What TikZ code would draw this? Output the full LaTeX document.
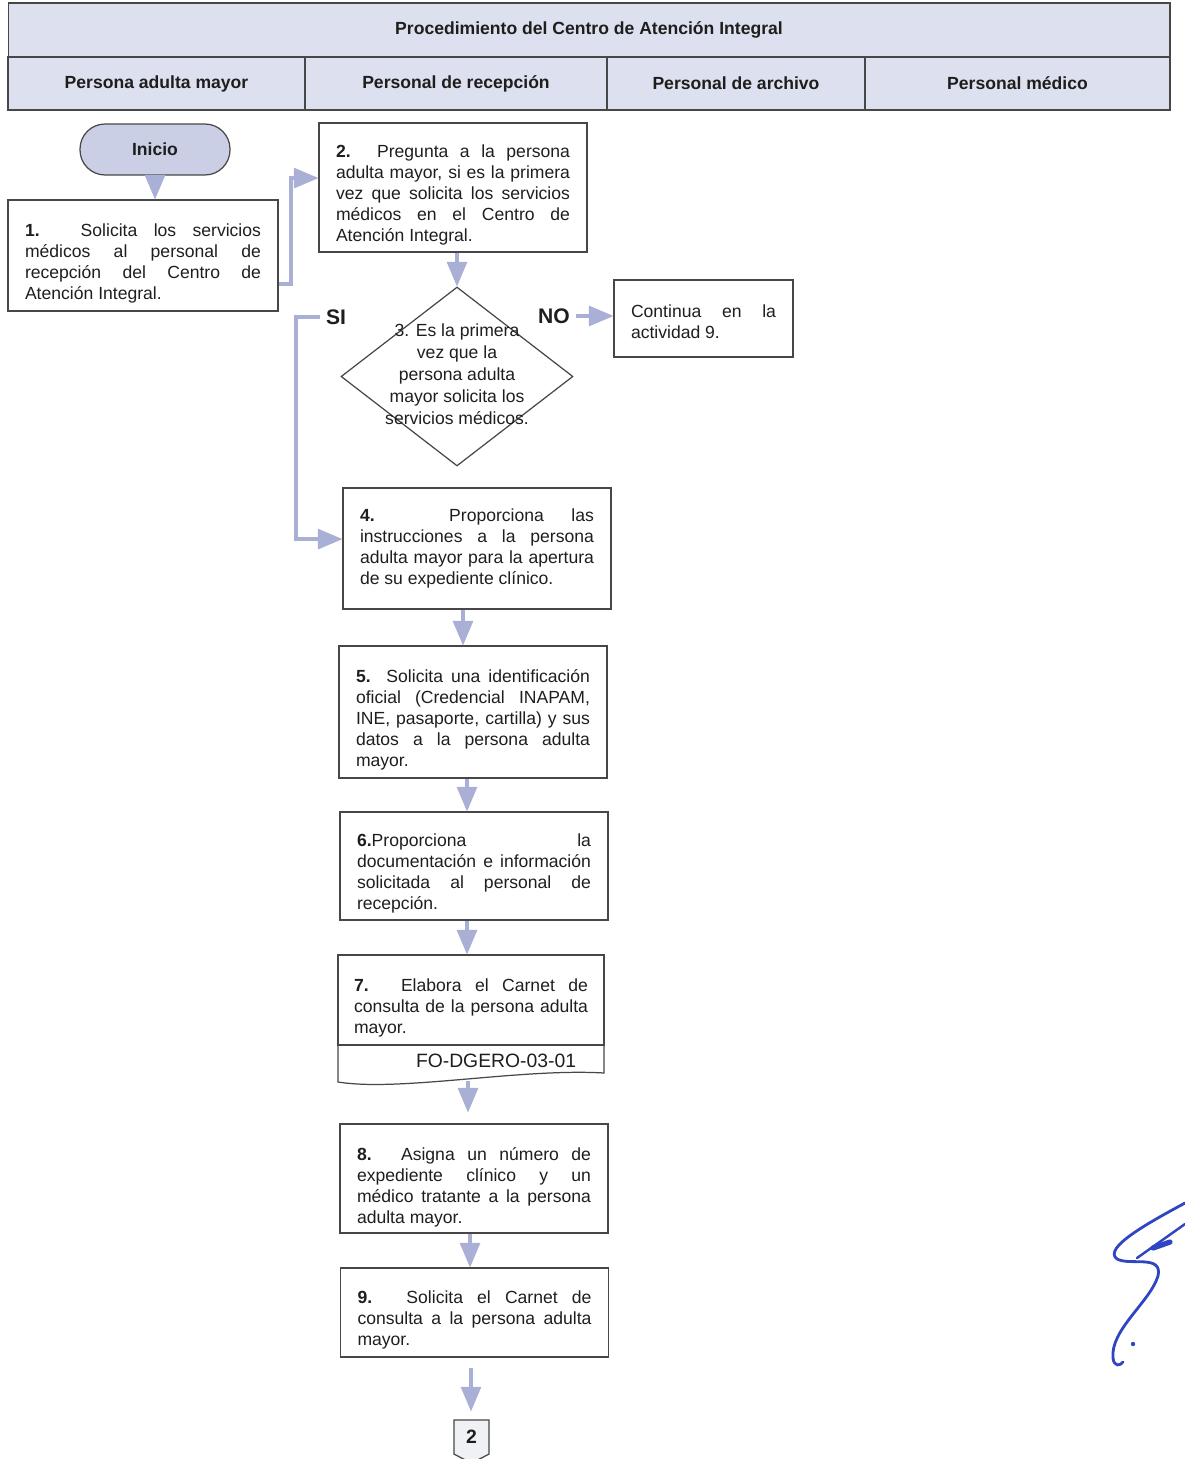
\documentclass[tikz,border=0pt]{standalone}
\usepackage{fontspec}
\setmainfont{Liberation Sans}
\usepackage{tikz}
\usetikzlibrary{shapes.geometric,shapes.symbols}
\usetikzlibrary{arrows}
\setlength{\parindent}{0pt}
\definecolor{flowblue}{HTML}{A9AFD5}
\definecolor{lanefill}{HTML}{DDE0EE}
\definecolor{startfill}{HTML}{CACFE6}
\definecolor{pagefill}{HTML}{F0F1F5}
\definecolor{edgegray}{HTML}{474747}
\definecolor{inkgray}{HTML}{1E1E1E}
\definecolor{signblue}{HTML}{2F45C2}

\begin{document}
\begin{tikzpicture}[x=0.02cm,y=-0.02cm,
  every node/.style={text=inkgray,font=\fontsize{10}{11.9}\selectfont},
  lane/.style={draw=edgegray,fill=lanefill,line width=0.7pt,minimum height=1.06cm,font=\fontsize{10}{12}\selectfont\bfseries},
  stepbox/.style={draw=edgegray,line width=0.7pt,text width=4.68cm,align=justify,minimum width=5.36cm},
  lowtext/.style={execute at begin node={\rule{0pt}{#1}}},
  lowtext/.default=16pt,
  decision/.style={diamond,draw=edgegray,line width=0.7pt,inner sep=0pt,minimum width=4.64cm,minimum height=3.58cm},
  answer/.style={font=\fontsize{12}{14}\selectfont\bfseries},
  flowarrow/.style={draw=flowblue,line width=2.3pt,-triangle 45}]
\useasboundingbox (0,0) rectangle (1185,1459);
% encabezado
\draw
(589,30) node[lane,minimum width=23.24cm,minimum height=1.08cm](hdr){Procedimiento del Centro de Atención Integral}
(156.5,83.5) node[lane,minimum width=5.94cm](l1){Persona adulta mayor}
(456,83.5) node[lane,minimum width=6.04cm](l2){Personal de recepción}
(736,83.5) node[lane,minimum width=5.16cm](l3){Personal de archivo}
(1017.5,83.5) node[lane,minimum width=6.1cm](l4){Personal médico}
;
% actividades
\draw
(155,149.5) node[draw=edgegray,fill=startfill,line width=0.7pt,rounded corners=0.5cm,minimum width=3cm,minimum height=1.02cm,font=\fontsize{10}{12}\selectfont\bfseries](ini){Inicio}
(143,255.5) node[stepbox,lowtext,text width=4.72cm,minimum width=5.4cm,minimum height=2.22cm](b1){\textbf{1.} Solicita los servicios\linebreak médicos al personal de\linebreak recepción del Centro de\linebreak Atención Integral.}
(453,187.5) node[stepbox,lowtext,minimum height=2.58cm](b2){\textbf{2.} Pregunta a la persona\linebreak adulta mayor, si es la primera\linebreak vez que solicita los servicios\linebreak médicos en el Centro de\linebreak Atención Integral.}
(457,376.5) node[decision](d3){}
(457,374) node[align=center,font=\fontsize{10}{12.5}\selectfont](d3t){3. Es la primera\\vez que la\\persona adulta\\mayor solicita los\\servicios médicos.}
(336,317) node[answer](si){SI}
(554,316) node[answer](no){NO}
(703.5,318.5) node[stepbox,lowtext=10.7pt,text width=2.9cm,minimum width=3.58cm,minimum height=1.54cm](cont){Continua en la\linebreak actividad 9.}
(477,548.5) node[stepbox,minimum height=2.42cm](b4){\textbf{4.} Proporciona las\linebreak instrucciones a la persona\linebreak adulta mayor para la apertura\linebreak de su expediente clínico.}
(473,712) node[stepbox,lowtext,minimum height=2.64cm](b5){\textbf{5.} Solicita una identificación\linebreak oficial (Credencial INAPAM,\linebreak INE, pasaporte, cartilla) y sus\linebreak datos a la persona adulta\linebreak mayor.}
(474,866) node[stepbox,lowtext,minimum height=2.16cm](b6){\textbf{6.}Proporciona la\linebreak documentación e información\linebreak solicitada al personal de\linebreak recepción.}
(471,1000) node[stepbox,lowtext,minimum width=5.32cm,minimum height=1.8cm](b7){\textbf{7.} Elabora el Carnet de\linebreak consulta de la persona adulta\linebreak mayor.}
(496,1061) node[font=\fontsize{11}{13}\selectfont](f7){FO-DGERO-03-01}
(474,1178.5) node[stepbox,lowtext=17.5pt,minimum height=2.1cm](b8){\textbf{8.} Asigna un número de\linebreak expediente clínico y un\linebreak médico tratante a la persona\linebreak adulta mayor.}
(474.5,1312.5) node[stepbox,lowtext,minimum height=1.78cm](b9){\textbf{9.} Solicita el Carnet de\linebreak consulta a la persona adulta\linebreak mayor.}
(471.5,1437) node[signal,signal to=south,signal from=nowhere,signal pointer angle=125,draw=edgegray,fill=pagefill,line width=0.7pt,minimum width=0.7cm,minimum height=0.8cm,font=\fontsize{11}{13}\selectfont\bfseries](p2){2}
;
% documento FO-DGERO-03-01
\draw[edgegray,line width=0.7pt] (338,1045) -- (338,1082) .. controls (400,1092) and (520,1068) .. (604,1073) -- (604,1045);
\coordinate (b7bot) at (468,1081);
% flechas
\foreach \a/\b/\x in {ini/b1/155, b2/d3/457, b4/b5/463, b5/b6/467, b6/b7/467, b8/b9/470}{
\draw[flowarrow](\a.south -| \x,0)--(\b.north -| \x,0);
}
\draw[flowarrow,shorten >=0.22cm](b7bot)--(b7bot |- b8.north);
\draw[flowarrow,shorten <=0.2cm,shorten >=0.16cm](b9.south -| 471,0)--(p2.north -| 471,0);
\draw[flowarrow](b1.-12)--++(12,0)|-(b2.176);
\draw[flowarrow](si.west)--++(-24,0)|-(b4.176);
\draw[flowarrow](no.east)--(no.east -| cont.west);
% firma
\draw[signblue,line width=1.6pt,line cap=round] (1185,1203) .. controls (1150,1222) and (1102,1248) .. (1117,1259) .. controls (1130,1266) and (1163,1254) .. (1158,1276) .. controls (1150,1302) and (1110,1330) .. (1113,1358) .. controls (1114,1367) and (1120,1366) .. (1123,1362);
\draw[signblue,line width=1.4pt,line cap=round] (1137,1258) -- (1185,1224);
\draw[signblue,line width=3pt,line cap=round] (1153,1248) -- (1170,1242);
\fill[signblue] (1133,1344) circle (2.2);
\end{tikzpicture}
\end{document}
